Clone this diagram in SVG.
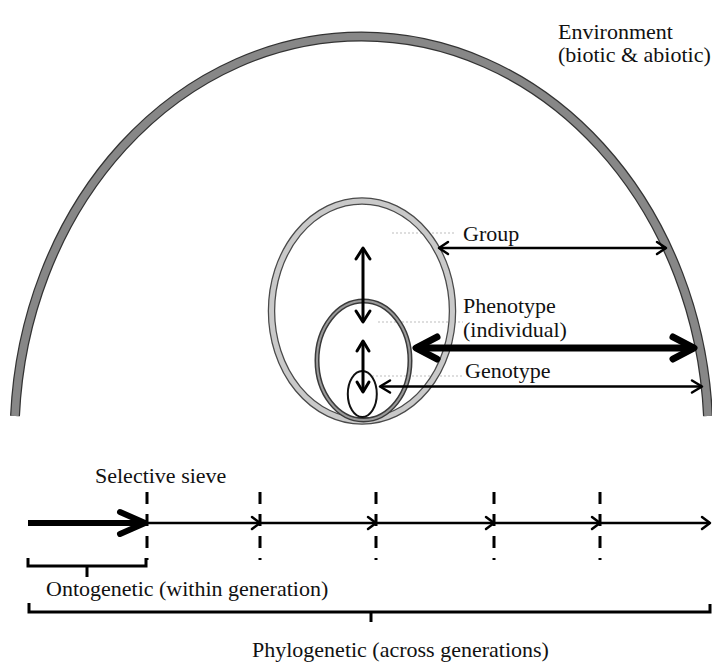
<svg xmlns="http://www.w3.org/2000/svg" width="712" height="664" viewBox="0 0 712 664">
<style>
text{font-family:"Liberation Serif","Times New Roman",serif;font-size:22px;fill:#111}
.dot{stroke:#bdbdbd;stroke-width:1;stroke-dasharray:2 2;fill:none}
.ln{stroke:#000;fill:none;stroke-linecap:butt}
.hd{stroke:#000;fill:none;stroke-linecap:round;stroke-linejoin:round}
.dash{stroke:#000;stroke-width:3;stroke-dasharray:12 10;fill:none}
</style>
<rect width="712" height="664" fill="#fff"/>
<g id="environment">
<path d="M 15 416 A 347 401 0 0 1 708 416" fill="none" stroke="#333" stroke-width="10"/>
<path d="M 15 416 A 347 401 0 0 1 708 416" fill="none" stroke="#878787" stroke-width="7.5"/>
<text x="558" y="39">Environment</text>
<text x="558" y="62">(biotic &amp; abiotic)</text>
</g>
<g id="guides">
<line class="dot" x1="392" y1="233" x2="455" y2="233"/>
<line class="dot" x1="378" y1="322" x2="463" y2="322"/>
<line class="dot" x1="372" y1="376" x2="463" y2="376"/>
</g>
<g id="group">
<ellipse cx="362" cy="311" rx="90.5" ry="110" fill="none" stroke="#4a4a4a" stroke-width="7.5"/>
<ellipse cx="362" cy="311" rx="90.5" ry="110" fill="none" stroke="#c9c9c9" stroke-width="5"/>
<text x="463" y="241">Group</text>
</g>
<g id="phenotype">
<ellipse cx="363.5" cy="360.5" rx="46.5" ry="59.5" fill="none" stroke="#3a3a3a" stroke-width="5"/>
<ellipse cx="363.5" cy="360.5" rx="46.5" ry="59.5" fill="none" stroke="#9a9a9a" stroke-width="2"/>
<text x="463" y="313">Phenotype</text>
<text x="463" y="337">(individual)</text>
</g>
<g id="genotype">
<ellipse cx="362.3" cy="394" rx="14.5" ry="23" fill="none" stroke="#111" stroke-width="2"/>
<text x="465" y="378">Genotype</text>
</g>
<g id="connectors">
<line class="ln" x1="363" y1="248" x2="363" y2="322" stroke-width="3"/>
<polyline class="hd" points="356,259 363,248 370,259" stroke-width="3"/>
<polyline class="hd" points="356,311 363,322 370,311" stroke-width="3"/>
<line class="ln" x1="363" y1="341" x2="363" y2="392" stroke-width="3"/>
<polyline class="hd" points="357,351 363,341 369,351" stroke-width="3"/>
<polyline class="hd" points="357,382 363,392 369,382" stroke-width="3"/>
<line class="ln" x1="439" y1="248" x2="666" y2="248" stroke-width="2.5"/>
<polyline class="hd" points="448,242 439,248 448,254" stroke-width="2.5"/>
<polyline class="hd" points="657,242 666,248 657,254" stroke-width="2.5"/>
<line class="ln" x1="416" y1="348" x2="694" y2="348" stroke-width="7"/>
<polyline class="hd" points="437,337 416,348 437,359" stroke-width="7"/>
<polyline class="hd" points="673,337 694,348 673,359" stroke-width="7"/>
<line class="ln" x1="380" y1="386.5" x2="702" y2="386.5" stroke-width="2.5"/>
<polyline class="hd" points="390,380.5 380,386.5 390,392.5" stroke-width="2.5"/>
<polyline class="hd" points="692,380.5 702,386.5 692,392.5" stroke-width="2.5"/>
</g>
<g id="timeline">
<line class="dash" x1="147" y1="492" x2="147" y2="560"/>
<line class="dash" x1="260" y1="492" x2="260" y2="560"/>
<line class="dash" x1="376" y1="492" x2="376" y2="560"/>
<line class="dash" x1="494" y1="492" x2="494" y2="560"/>
<line class="dash" x1="600" y1="492" x2="600" y2="560"/>
<line class="ln" x1="28" y1="523" x2="142" y2="523" stroke-width="6"/>
<polyline class="hd" points="120,512 145,523 120,534" stroke-width="6"/>
<line class="ln" x1="147" y1="523" x2="710" y2="523" stroke-width="2.5"/>
<polyline class="hd" points="252,517 260,523 252,529" stroke-width="2.5"/>
<polyline class="hd" points="368,517 376,523 368,529" stroke-width="2.5"/>
<polyline class="hd" points="486,517 494,523 486,529" stroke-width="2.5"/>
<polyline class="hd" points="592,517 600,523 592,529" stroke-width="2.5"/>
<polyline class="hd" points="702,517 710,523 702,529" stroke-width="2.5"/>
<text x="95" y="483">Selective sieve</text>
</g>
<g id="ontogenetic">
<polyline points="28,558 28,566 146,566 146,558" fill="none" stroke="#000" stroke-width="3"/>
<line x1="87" y1="566" x2="87" y2="577" stroke="#000" stroke-width="3"/>
<text x="46" y="596">Ontogenetic (within generation)</text>
</g>
<g id="phylogenetic">
<polyline points="29,603 29,612 710,612 710,604" fill="none" stroke="#000" stroke-width="3"/>
<line x1="371" y1="612" x2="371" y2="622" stroke="#000" stroke-width="3"/>
<text x="252" y="657">Phylogenetic (across generations)</text>
</g>
</svg>
